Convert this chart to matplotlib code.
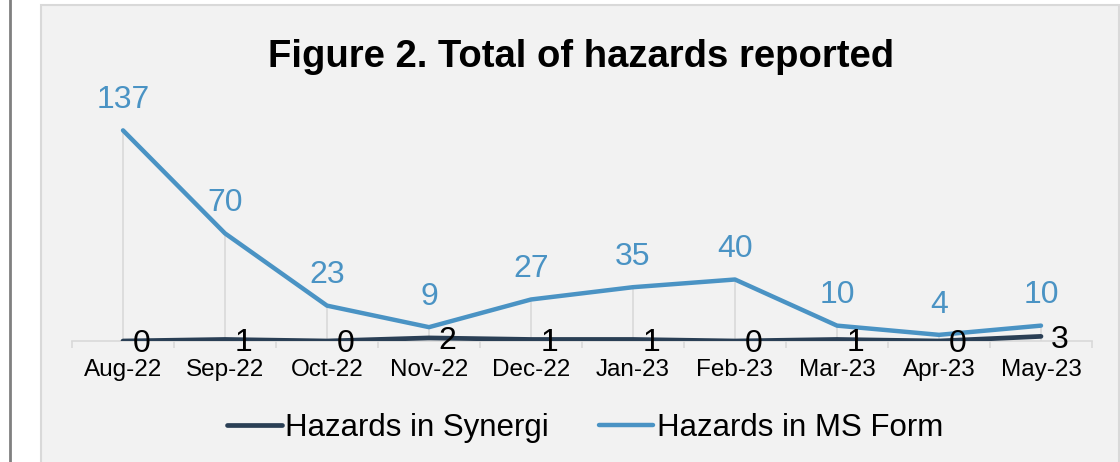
import matplotlib
matplotlib.use("Agg")
import matplotlib.pyplot as plt
from matplotlib.patches import Rectangle
from matplotlib.lines import Line2D

months = ["Aug-22", "Sep-22", "Oct-22", "Nov-22", "Dec-22", "Jan-23", "Feb-23", "Mar-23", "Apr-23", "May-23"]
synergi = [0, 1, 0, 2, 1, 1, 0, 1, 0, 3]
ms_form = [137, 70, 23, 9, 27, 35, 40, 10, 4, 10]
title = "Figure 2. Total of hazards reported"
series_names = ["Hazards in Synergi", "Hazards in MS Form"]

C_SYN = "#2a3f55"
C_MS = "#4a93c4"
GRID = "#d9d9d9"

plt.rcParams['font.family'] = ['Liberation Sans', 'DejaVu Sans']

W, H = 1120, 462
fig = plt.figure(figsize=(W / 100, H / 100), dpi=100)
fig.patch.set_facecolor("white")

def fx(px):
    return px / W

def fy(py):
    return 1 - py / H

# panel background and left rule
fig.add_artist(Rectangle((fx(41), fy(470)), fx(1119) - fx(41), fy(5) - fy(470),
                         transform=fig.transFigure, facecolor="#f2f2f2",
                         edgecolor=GRID, lw=1.5, zorder=0))
fig.add_artist(Line2D([fx(10), fx(10)], [0, 1], transform=fig.transFigure,
                      color="#808080", lw=2, zorder=1))

ax_left, ax_right = 72, 1092
ax_bottom, ax_top = 341, 95
ax = fig.add_axes([fx(ax_left), fy(ax_bottom), fx(ax_right) - fx(ax_left), fy(ax_top) - fy(ax_bottom)])
ax.set_facecolor("none")
x = list(range(len(months)))
ax.set_xlim(-0.5, len(months) - 0.5)
ax.set_ylim(0, 160)

# drop lines
tops = [max(a, b) for a, b in zip(synergi, ms_form)]
ax.vlines(x, 0, tops, color=GRID, lw=1.2, zorder=1)

ax.plot(x, ms_form, color=C_MS, lw=3.2, solid_capstyle="round", solid_joinstyle="round", zorder=3)
ax.plot(x, synergi, color=C_SYN, lw=3.4, solid_capstyle="round", solid_joinstyle="round", zorder=4)

for xi, v in zip(x, ms_form):
    ax.annotate(str(v), (xi, v), xytext=(0, 16), textcoords="offset points",
                ha="center", va="baseline", fontsize=23, color=C_MS, zorder=5)
for xi, v in zip(x, synergi):
    ax.annotate(str(v), (xi, v), xytext=(7, 0), textcoords="offset points",
                ha="left", va="center_baseline", fontsize=23, color="black", zorder=5)

for s in ["top", "left", "right"]:
    ax.spines[s].set_visible(False)
ax.spines["bottom"].set_color(GRID)
ax.spines["bottom"].set_linewidth(1.2)
ax.set_yticks([])
ax.set_xticks(x)
ax.set_xticklabels(months, fontsize=17.5)
ax.tick_params(axis="x", which="major", length=0, pad=13)
ax.set_xticks([i - 0.5 for i in range(len(months) + 1)], minor=True)
ax.tick_params(axis="x", which="minor", length=5, color=GRID, width=1.2)

fig.text(fx(581), fy(57), title, ha="center", va="center", fontsize=27.5, fontweight="bold")

handles = [Line2D([], [], color=C_SYN, lw=3.4, solid_capstyle="round"),
           Line2D([], [], color=C_MS, lw=3.2, solid_capstyle="round")]
fig.legend(handles, series_names, loc="center", bbox_to_anchor=(fx(585), fy(428)),
           ncol=2, frameon=False, fontsize=22.5, handlelength=1.75, handletextpad=0.1,
           columnspacing=1.6)

fig.savefig("out.png", dpi=100, facecolor="white")
